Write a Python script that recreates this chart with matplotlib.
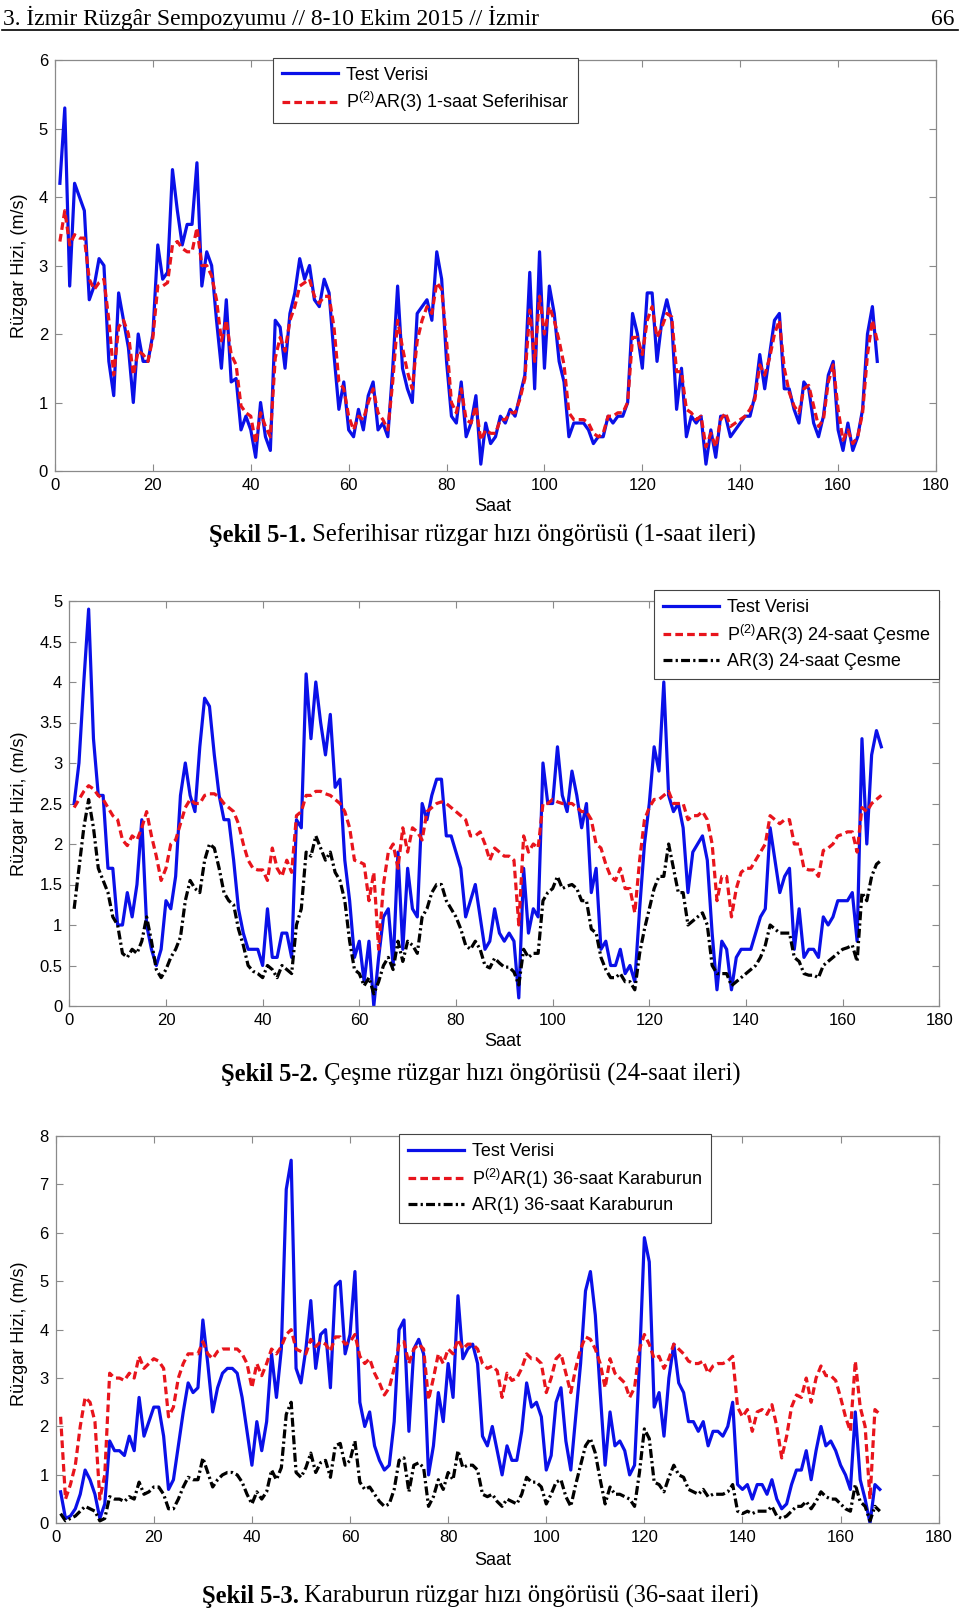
import matplotlib
matplotlib.use("Agg")
import matplotlib.pyplot as plt
from matplotlib.ticker import FuncFormatter

plt.rcParams['font.family'] = ['Liberation Sans', 'DejaVu Sans']
plt.rcParams['mathtext.fontset'] = 'custom'
plt.rcParams['mathtext.rm'] = 'Liberation Sans'
plt.rcParams['mathtext.it'] = 'Liberation Sans'
plt.rcParams['mathtext.bf'] = 'Liberation Sans'
plt.rcParams['mathtext.default'] = 'regular'
plt.rcParams['lines.dashed_pattern'] = [2.4, 1.3]
plt.rcParams['lines.dashdot_pattern'] = [2.8, 1.0, 0.7, 1.0]

# ---------------- data ----------------
hours = list(range(1, 169))
x_ticks = [0, 20, 40, 60, 80, 100, 120, 140, 160, 180]

# Figure 5-1 Seferihisar (1-saat)
sef_test = [4.2, 5.3, 2.7, 4.2, 4.0, 3.8, 2.5, 2.7, 3.1, 3.0,
            1.6, 1.1, 2.6, 2.2, 1.8, 1.0, 2.0, 1.6, 1.6, 2.0,
            3.3, 2.8, 2.9, 4.4, 3.8, 3.3, 3.6, 3.6, 4.5, 2.7,
            3.2, 3.0, 2.2, 1.5, 2.5, 1.3, 1.35, 0.6, 0.8, 0.6,
            0.2, 1.0, 0.5, 0.3, 2.2, 2.1, 1.5, 2.3, 2.6, 3.1,
            2.8, 3.0, 2.5, 2.4, 2.8, 2.6, 1.7, 0.9, 1.3, 0.6,
            0.5, 0.9, 0.6, 1.1, 1.3, 0.6, 0.7, 0.5, 1.5, 2.7,
            1.5, 1.2, 1.0, 2.3, 2.4, 2.5, 2.2, 3.2, 2.8, 1.6,
            0.8, 0.7, 1.3, 0.5, 0.7, 1.1, 0.1, 0.7, 0.4, 0.5,
            0.8, 0.7, 0.9, 0.8, 1.1, 1.4, 2.9, 1.2, 3.2, 1.5,
            2.7, 2.3, 1.6, 1.3, 0.5, 0.7, 0.7, 0.7, 0.6, 0.4,
            0.5, 0.5, 0.8, 0.7, 0.8, 0.8, 1.0, 2.3, 2.0, 1.5,
            2.6, 2.6, 1.6, 2.2, 2.5, 2.2, 0.9, 1.5, 0.5, 0.8,
            0.7, 0.8, 0.1, 0.6, 0.2, 0.8, 0.8, 0.5, 0.6, 0.7,
            0.8, 0.8, 1.1, 1.7, 1.2, 1.7, 2.2, 2.3, 1.2, 1.2,
            0.9, 0.7, 1.3, 1.2, 0.7, 0.5, 0.8, 1.4, 1.6, 0.6,
            0.3, 0.7, 0.3, 0.5, 0.9, 2.0, 2.4, 1.6]
sef_p2ar3 = [3.35, 3.8, 3.3, 3.45, 3.4, 3.4, 2.8, 2.65, 2.75, 2.8,
             2.2, 1.4, 2.1, 2.2, 2.0, 1.4, 1.75, 1.7, 1.6, 1.95,
             2.7, 2.7, 2.75, 3.3, 3.35, 3.25, 3.2, 3.2, 3.55, 3.0,
             3.0, 2.85, 2.5, 1.9, 2.2, 1.7, 1.55, 0.95, 0.85, 0.8,
             0.4, 0.85, 0.65, 0.5, 1.65, 1.95, 1.75, 2.2, 2.4, 2.7,
             2.75, 2.8, 2.55, 2.45, 2.55, 2.55, 2.1, 1.3, 1.2, 0.8,
             0.6, 0.8, 0.75, 1.0, 1.2, 0.85, 0.75, 0.6, 1.3, 2.2,
             1.8, 1.45, 1.2, 1.9, 2.2, 2.4, 2.3, 2.75, 2.65, 1.9,
             1.0, 0.85, 1.2, 0.75, 0.7, 0.95, 0.45, 0.6, 0.55, 0.55,
             0.75, 0.75, 0.85, 0.85, 1.05, 1.35, 2.35, 1.6, 2.55, 2.0,
             2.4, 2.2, 1.9, 1.55, 0.85, 0.75, 0.75, 0.75, 0.7, 0.55,
             0.5, 0.55, 0.8, 0.8, 0.85, 0.85, 1.0, 1.95, 1.95, 1.7,
             2.2, 2.4, 1.95, 2.1, 2.3, 2.25, 1.45, 1.45, 0.9, 0.85,
             0.75, 0.8, 0.35, 0.55, 0.35, 0.75, 0.85, 0.65, 0.7, 0.75,
             0.8, 0.9, 1.05, 1.55, 1.4, 1.65, 2.0, 2.2, 1.5, 1.15,
             0.95, 0.85, 1.2, 1.25, 0.95, 0.65, 0.75, 1.3, 1.55, 0.9,
             0.45, 0.6, 0.4, 0.5, 0.85, 1.7, 2.2, 1.9]

# Figure 5-2 Cesme (24-saat)
ces_test = [2.5, 3.0, 4.0, 4.9, 3.3, 2.6, 2.6, 1.7, 1.7, 1.0,
            1.0, 1.4, 1.1, 1.5, 2.3, 1.0, 0.7, 0.5, 0.7, 1.3,
            1.2, 1.6, 2.6, 3.0, 2.6, 2.4, 3.2, 3.8, 3.7, 3.1,
            2.6, 2.3, 2.3, 1.8, 1.2, 0.9, 0.7, 0.7, 0.7, 0.5,
            1.2, 0.6, 0.6, 0.9, 0.9, 0.6, 2.3, 2.2, 4.1, 3.3,
            4.0, 3.5, 3.1, 3.6, 2.7, 2.8, 1.8, 1.3, 0.6, 0.8,
            0.3, 0.8, 0.0, 0.6, 1.1, 1.2, 0.5, 1.9, 0.7, 1.7,
            1.2, 1.1, 2.5, 2.3, 2.6, 2.8, 2.8, 2.1, 2.1, 1.9,
            1.7, 1.1, 1.3, 1.5, 1.1, 0.7, 0.8, 1.2, 0.9, 0.8,
            0.9, 0.8, 0.1, 1.7, 0.9, 1.2, 1.1, 3.0, 2.5, 2.5,
            3.2, 2.6, 2.4, 2.9, 2.6, 2.2, 2.5, 1.4, 1.7, 0.7,
            0.8, 0.5, 0.5, 0.7, 0.4, 0.5, 0.3, 1.2, 2.0, 2.5,
            3.2, 2.9, 4.0, 2.6, 2.4, 2.5, 2.2, 1.4, 1.9, 2.0,
            2.1, 1.8, 0.9, 0.2, 0.8, 0.7, 0.2, 0.6, 0.7, 0.7,
            0.7, 0.9, 1.1, 1.2, 2.2, 1.8, 1.4, 1.6, 1.7, 0.7,
            1.2, 0.6, 0.7, 0.7, 0.6, 1.1, 1.0, 1.1, 1.3, 1.3,
            1.3, 1.4, 0.8, 3.3, 2.0, 3.1, 3.4, 3.2]
ces_p2ar3 = [2.45, 2.55, 2.65, 2.72, 2.68, 2.6, 2.55, 2.45, 2.35, 2.3,
             2.05, 1.98, 2.1, 2.05, 2.2, 2.4, 2.1, 1.85, 1.55, 1.7,
             2.0, 2.05, 2.25, 2.45, 2.55, 2.5, 2.5, 2.6, 2.62, 2.62,
             2.58, 2.5, 2.45, 2.4, 2.25, 2.0, 1.8, 1.7, 1.68, 1.68,
             1.55, 1.95, 1.7, 1.6, 1.8, 1.65, 2.35, 2.4, 2.6, 2.6,
             2.65, 2.65, 2.62, 2.6, 2.55, 2.5, 2.4, 2.2, 1.8, 1.78,
             1.75, 1.3, 1.65, 0.7, 1.5, 1.9, 2.0, 1.7, 2.2, 1.9,
             2.2, 2.15, 2.05, 2.4, 2.45, 2.5, 2.52, 2.5, 2.45, 2.4,
             2.35, 2.3, 2.1, 2.1, 2.15, 2.0, 1.8, 1.95, 1.9, 1.85,
             1.85, 1.8, 1.0, 2.1, 1.9, 2.0, 1.95, 2.5, 2.5, 2.55,
             2.52, 2.5, 2.5, 2.5, 2.45, 2.4, 2.4, 2.3, 2.0, 1.95,
             1.75, 1.6, 1.55, 1.7, 1.45, 1.45, 1.15, 1.8, 2.3, 2.45,
             2.55, 2.55, 2.6, 2.65, 2.5, 2.5, 2.5, 2.3, 2.35, 2.35,
             2.4, 2.3, 2.0, 1.3, 1.6, 1.6, 1.1, 1.45, 1.65, 1.7,
             1.7, 1.8, 1.9, 2.0, 2.35, 2.3, 2.25, 2.3, 2.3, 2.0,
             2.0, 1.7, 1.68, 1.68, 1.6, 1.92, 1.95, 2.0, 2.1, 2.12,
             2.15, 2.15, 1.9, 2.45, 2.4, 2.5, 2.55, 2.6]
ces_ar3 = [1.2, 1.7, 2.2, 2.55, 2.2, 1.7, 1.55, 1.4, 1.1, 1.0,
           0.65, 0.6, 0.7, 0.65, 0.8, 1.1, 0.8, 0.45, 0.35, 0.45,
           0.6, 0.7, 0.85, 1.3, 1.55, 1.45, 1.4, 1.8, 2.0, 1.95,
           1.7, 1.4, 1.3, 1.25, 0.95, 0.75, 0.5, 0.43, 0.4, 0.35,
           0.5, 0.45, 0.35, 0.5, 0.45, 0.4, 1.0, 1.2, 1.9, 1.85,
           2.1, 1.95, 1.8, 1.9, 1.65, 1.55, 1.3, 0.8, 0.45, 0.4,
           0.25, 0.35, 0.15, 0.3, 0.5, 0.6, 0.45, 0.8, 0.55, 0.8,
           0.75, 0.65, 1.1, 1.2, 1.4, 1.5, 1.5, 1.3, 1.2, 1.1,
           0.95, 0.75, 0.7, 0.8, 0.7, 0.5, 0.47, 0.59, 0.53, 0.48,
           0.48, 0.42, 0.26, 0.7, 0.6, 0.65, 0.65, 1.3, 1.4, 1.45,
           1.6, 1.45, 1.48, 1.5, 1.45, 1.3, 1.3, 0.95, 0.9, 0.6,
           0.45, 0.35, 0.35, 0.4, 0.3, 0.3, 0.2, 0.65, 0.95, 1.2,
           1.45, 1.6, 1.6, 2.0, 1.7, 1.4, 1.4, 1.0, 1.05, 1.1,
           1.15, 1.0, 0.5, 0.4, 0.4, 0.4, 0.25, 0.3, 0.35, 0.4,
           0.45, 0.5, 0.6, 0.75, 1.0, 0.95, 0.9, 0.9, 0.9, 0.6,
           0.55, 0.4, 0.38, 0.38, 0.35, 0.5, 0.55, 0.6, 0.65, 0.7,
           0.72, 0.75, 0.55, 1.4, 1.3, 1.6, 1.75, 1.8]

# Figure 5-3 Karaburun (36-saat)
kar_test = [0.65, 0.1, 0.15, 0.3, 0.6, 1.1, 0.9, 0.6, 0.1, 0.4,
            1.7, 1.5, 1.5, 1.4, 1.8, 1.5, 2.6, 1.8, 2.1, 2.4,
            2.4, 1.8, 0.7, 0.9, 1.6, 2.3, 2.9, 2.7, 2.8, 4.2,
            3.3, 2.3, 2.8, 3.1, 3.2, 3.2, 3.1, 2.6, 1.9, 1.2,
            2.1, 1.5, 2.1, 3.5, 2.6, 3.6, 6.9, 7.5, 3.2, 2.9,
            3.6, 4.6, 3.2, 3.9, 4.0, 2.8, 4.9, 5.0, 3.5, 3.9,
            5.2, 2.5, 2.0, 2.3, 1.6, 1.3, 1.1, 1.2, 2.1, 4.0,
            4.2, 1.9, 3.6, 3.8, 3.5, 1.0, 1.6, 2.7, 2.1, 3.3,
            2.6, 4.7, 3.4, 3.6, 3.7, 3.3, 1.8, 1.6, 2.0, 1.5,
            1.0, 1.6, 1.3, 1.3, 1.9, 2.9, 2.4, 2.5, 2.2, 1.1,
            1.4, 2.5, 2.8, 1.7, 1.1, 2.2, 3.3, 4.8, 5.2, 4.3,
            2.7, 1.2, 2.3, 1.6, 1.7, 1.5, 1.0, 1.2, 3.3, 5.9,
            5.4, 2.4, 2.7, 1.8, 3.0, 3.7, 2.9, 2.7, 2.1, 2.1,
            1.9, 2.1, 1.6, 1.9, 1.9, 1.8, 2.0, 2.5, 0.8, 0.7,
            0.8, 0.5, 0.8, 0.8, 0.6, 0.9, 0.5, 0.3, 0.4, 0.8,
            1.1, 1.1, 1.5, 0.9, 1.5, 2.0, 1.6, 1.7, 1.5, 1.2,
            1.0, 0.7, 2.3, 0.9, 0.5, 0.0, 0.8, 0.7]
kar_p2ar1 = [2.2, 0.5, 0.8, 1.2, 2.0, 2.6, 2.5, 2.1, 0.5, 1.0,
             3.1, 3.0, 3.0, 2.95, 3.1, 3.0, 3.45, 3.2, 3.3, 3.4,
             3.35, 3.2, 2.2, 2.4, 3.0, 3.3, 3.5, 3.5, 3.5, 3.75,
             3.5, 3.4, 3.55, 3.6, 3.6, 3.6, 3.6, 3.5, 3.3, 2.8,
             3.3, 3.05, 3.3, 3.6, 3.5, 3.65, 3.9, 4.0, 3.6, 3.55,
             3.5, 3.8, 3.65, 3.75, 3.7, 3.55, 3.85, 3.85, 3.7, 3.75,
             3.9, 3.45, 3.3, 3.4, 3.1, 2.9, 2.65, 2.8, 3.2, 3.7,
             3.75, 3.3, 3.6, 3.7, 3.6, 2.55, 3.0, 3.5, 3.3, 3.6,
             3.5, 3.8, 3.6, 3.7, 3.7, 3.6, 3.3, 3.2, 3.25, 3.15,
             2.6, 3.1, 2.95, 3.0, 3.2, 3.5, 3.4, 3.4, 3.3, 2.7,
             3.0, 3.4, 3.5, 3.1, 2.7, 3.2, 3.6, 3.85, 3.8, 3.6,
             3.3, 2.8, 3.4, 3.1, 3.0, 2.9, 2.6, 2.8, 3.6, 3.9,
             3.7, 3.4, 3.45, 3.2, 3.4, 3.7, 3.6, 3.5, 3.35, 3.3,
             3.3, 3.35, 3.1, 3.25, 3.3, 3.3, 3.35, 3.45, 2.4, 2.2,
             2.35, 1.9, 2.3, 2.35, 2.25, 2.45, 2.0, 1.35, 1.8, 2.4,
             2.65, 2.6, 3.0, 2.5, 3.0, 3.25, 3.05, 3.05, 2.95, 2.6,
             2.2, 1.9, 3.35, 2.4, 2.0, 0.5, 2.35, 2.25]
kar_ar1 = [0.2, 0.05, 0.1, 0.15, 0.25, 0.35, 0.3, 0.25, 0.05, 0.1,
           0.55, 0.5, 0.5, 0.45, 0.55, 0.5, 0.85, 0.6, 0.65, 0.75,
           0.75, 0.6, 0.3, 0.3, 0.5, 0.75, 0.95, 0.9, 0.9, 1.35,
           1.05, 0.75, 0.9, 1.0, 1.05, 1.05, 1.0, 0.85, 0.6, 0.4,
           0.65, 0.5, 0.65, 1.1, 0.9, 1.15, 2.25, 2.5, 1.05, 0.95,
           1.15, 1.45, 1.05, 1.25, 1.3, 0.95, 1.6, 1.65, 1.2, 1.3,
           1.7, 0.85, 0.7, 0.75, 0.6, 0.45, 0.35, 0.4, 0.7, 1.3,
           1.35, 0.65, 1.2, 1.25, 1.15, 0.35, 0.55, 0.9, 0.7, 1.05,
           0.9, 1.5, 1.15, 1.2, 1.2, 1.1, 0.6, 0.55, 0.6, 0.45,
           0.35, 0.5, 0.45, 0.4, 0.6, 0.95, 0.85, 0.85, 0.75, 0.4,
           0.6, 0.85, 0.9, 0.55, 0.35, 0.8, 1.2, 1.6, 1.75, 1.45,
           0.9, 0.4, 0.75, 0.6, 0.6, 0.55, 0.5, 0.35, 1.05, 1.95,
           1.75, 0.85, 0.8, 0.65, 0.95, 1.2, 1.0, 0.95, 0.7, 0.65,
           0.6, 0.7, 0.55, 0.6, 0.6, 0.6, 0.65, 0.8, 0.25, 0.2,
           0.25, 0.2, 0.25, 0.25, 0.25, 0.35, 0.15, 0.1, 0.15, 0.25,
           0.35, 0.35, 0.45, 0.3, 0.45, 0.65, 0.55, 0.5, 0.5, 0.4,
           0.3, 0.25, 0.8, 0.45, 0.35, 0.05, 0.35, 0.25]

header_left = "3. İzmir Rüzgâr Sempozyumu // 8-10 Ekim 2015 // İzmir"
header_right = "66"
ylabel = "Rüzgar Hizi, (m/s)"
xlabel = "Saat"
captions = [("Şekil 5-1.", " Seferihisar rüzgar hızı öngörüsü (1-saat ileri)"),
            ("Şekil 5-2.", " Çeşme rüzgar hızı öngörüsü (24-saat ileri)"),
            ("Şekil 5-3.", " Karaburun rüzgar hızı öngörüsü (36-saat ileri)")]

# ---------------- figure ----------------
W, H = 960, 1611
fig = plt.figure(figsize=(W / 100, H / 100), dpi=100)

BLUE = '#0a10e8'
RED = '#e8141c'
BLACK = '#000000'
SPINE = '#8a8a8a'
TICKFS = 12
LABFS = 13
LEGFS = 13


def px_axes(left, right, top, bottom):
    return fig.add_axes([left / W, 1 - bottom / H, (right - left) / W, (bottom - top) / H])


def style(ax, ymax, yticks):
    ax.set_xlim(0, 180)
    ax.set_ylim(0, ymax)
    ax.set_xticks(x_ticks)
    ax.set_yticks(yticks)
    ax.yaxis.set_major_formatter(FuncFormatter(lambda v, p: f"{v:g}"))
    ax.tick_params(direction='in', top=True, right=True, length=5, width=0.8,
                   color=SPINE, labelsize=TICKFS, labelcolor='black', pad=5)
    for s in ax.spines.values():
        s.set_color(SPINE)
        s.set_linewidth(0.9)


def leg(ax, loc, anchor):
    lg = ax.legend(loc=loc, bbox_to_anchor=anchor, fontsize=LEGFS, frameon=True,
                   fancybox=False, framealpha=1, edgecolor='#444444',
                   handlelength=3.1, handletextpad=0.45, borderpad=0.5,
                   labelspacing=0.35, borderaxespad=0)
    lg.get_frame().set_linewidth(0.8)
    lg.set_zorder(10)
    return lg


LW = 2.3

# Plot 1
ax1 = px_axes(55, 936, 60, 471)
ax1.plot(hours, sef_test, color=BLUE, lw=LW, label='Test Verisi')
ax1.plot(hours, sef_p2ar3, color=RED, lw=LW, ls='--', label='P$^{(2)}$AR(3) 1-saat Seferihisar')
style(ax1, 6, list(range(0, 7)))
leg(ax1, 'upper left', (0.2474, 1.006))
ax1.set_xlabel(xlabel, fontsize=LABFS)
ax1.set_ylabel(ylabel, fontsize=LABFS)
ax1.xaxis.set_label_coords(0.497, -0.066)
ax1.yaxis.set_label_coords(-0.0306, 0.5)

# Plot 2
ax2 = px_axes(69.3, 939.3, 601, 1006)
ax2.plot(hours, ces_test, color=BLUE, lw=LW, label='Test Verisi')
ax2.plot(hours, ces_p2ar3, color=RED, lw=LW, ls='--', label='P$^{(2)}$AR(3) 24-saat Çesme')
ax2.plot(hours, ces_ar3, color=BLACK, lw=LW, ls='-.', label='AR(3) 24-saat Çesme')
style(ax2, 5, [0, 0.5, 1, 1.5, 2, 2.5, 3, 3.5, 4, 4.5, 5])
leg(ax2, 'upper right', (1.0, 1.027))
ax2.set_xlabel(xlabel, fontsize=LABFS)
ax2.set_ylabel(ylabel, fontsize=LABFS)
ax2.xaxis.set_label_coords(0.4985, -0.067)
ax2.yaxis.set_label_coords(-0.0475, 0.5)

# Plot 3
ax3 = px_axes(55.7, 938.7, 1136, 1523.3)
ax3.plot(hours, kar_test, color=BLUE, lw=LW, label='Test Verisi')
ax3.plot(hours, kar_p2ar1, color=RED, lw=LW, ls='--', label='P$^{(2)}$AR(1) 36-saat Karaburun')
ax3.plot(hours, kar_ar1, color=BLACK, lw=LW, ls='-.', label='AR(1) 36-saat Karaburun')
style(ax3, 8, list(range(0, 9)))
leg(ax3, 'upper left', (0.389, 1.005))
ax3.set_xlabel(xlabel, fontsize=LABFS)
ax3.set_ylabel(ylabel, fontsize=LABFS)
ax3.xaxis.set_label_coords(0.495, -0.074)
ax3.yaxis.set_label_coords(-0.0314, 0.49)

# Header
SERIF = ['Liberation Serif', 'DejaVu Serif']
fig.text(3 / W, 1 - 25 / H, header_left, family=SERIF, fontsize=16.9, ha='left', va='baseline')
fig.text(954 / W, 1 - 25 / H, header_right, family=SERIF, fontsize=16.9, ha='right', va='baseline')
fig.add_artist(plt.Line2D([2 / W, 958 / W], [1 - 29.5 / H, 1 - 29.5 / H], color='black', lw=1.2,
                          transform=fig.transFigure))

# Captions (bold part + regular part)
CAPFS = 17.7
cap_pos = [(209, 542), (221, 1081), (201.5, 1603)]
fig.canvas.draw()
renderer = fig.canvas.get_renderer()
for (bold, rest), (cx, cy) in zip(captions, cap_pos):
    tb = fig.text(cx / W, 1 - cy / H, bold, family=SERIF, fontsize=CAPFS, weight='bold',
                  ha='left', va='baseline')
    bb = tb.get_window_extent(renderer=renderer)
    fig.text(bb.x1 / W, 1 - cy / H, rest, family=SERIF, fontsize=CAPFS, ha='left', va='baseline')

fig.savefig('out.png', dpi=100)
